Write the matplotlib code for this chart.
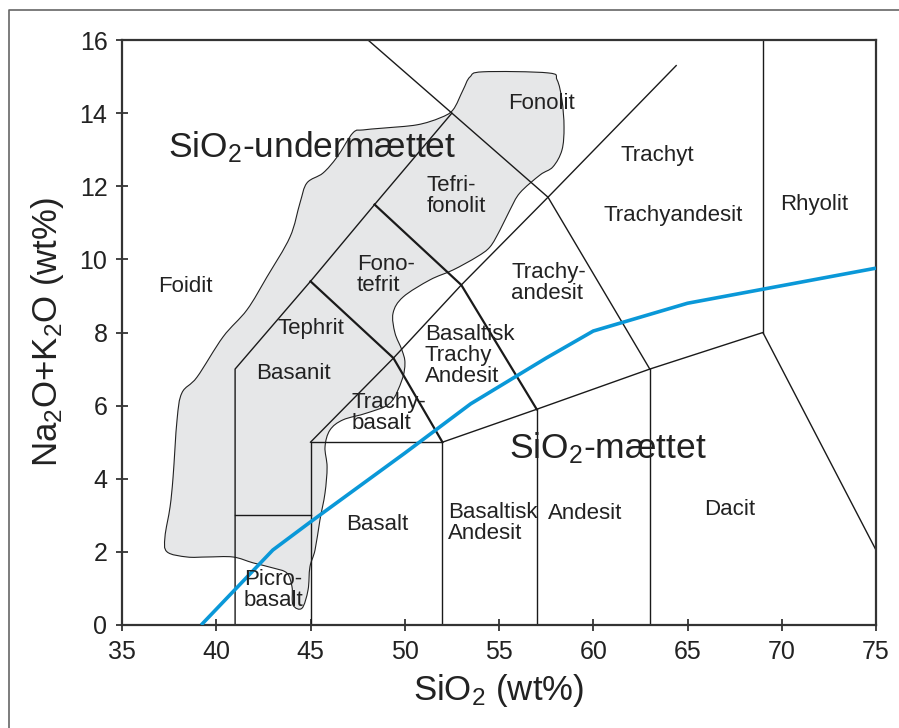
import matplotlib.pyplot as plt
from matplotlib.lines import Line2D
from matplotlib.path import Path
from matplotlib.patches import PathPatch

plt.rcParams['font.family'] = ['Liberation Sans', 'DejaVu Sans']
plt.rcParams['mathtext.fontset'] = 'custom'
plt.rcParams['mathtext.rm'] = 'Liberation Sans'
plt.rcParams['mathtext.it'] = 'Liberation Sans:italic'

# TAS field boundaries (SiO2, Na2O+K2O), thin lines
thin_lines = [
    ([41, 41, 45, 48.4, 52.5, 48.05], [0, 7, 9.4, 11.5, 14, 16]),
    ([41, 45], [3, 3]),
    ([45, 45, 52, 52], [0, 5, 5, 0]),
    ([45, 49.4, 53, 57.6, 64.4], [5, 7.3, 9.3, 11.7, 15.3]),
    ([52.5, 57.6, 63], [14, 11.7, 7]),
    ([52, 57, 63, 69, 75], [5, 5.9, 7, 8, 2.05]),
    ([57, 57], [0, 5.9]),
    ([63, 63], [0, 7]),
    ([69, 69], [8, 16]),
]
# slightly heavier boundaries
thick_lines = [
    ([45, 49.4, 52], [9.4, 7.3, 5]),
    ([48.4, 53, 57], [11.5, 9.3, 5.9]),
]

# alkaline / subalkaline divide
divide_sio2 = [39.2, 43, 45, 50, 53.5, 57.5, 60, 65, 75]
divide_alk = [0, 2.05, 2.82, 4.7, 6.05, 7.3, 8.04, 8.8, 9.76]

# outline of the SiO2-undersaturated (shaded) field
field_sio2 = [54.15, 57.6, 58.08, 58.34, 58.45, 58.34, 57.86, 57.18, 56.11, 55.58,
              55.05, 54.52, 53.83, 52.56, 51.34, 49.91, 49.38, 49.48, 49.85, 50.01,
              49.85, 49.22, 48.0, 46.72, 46.03, 45.77, 45.88, 45.77, 45.5, 45.24,
              44.97, 44.87, 44.55, 44.07, 44.02, 43.75, 43.01, 41.95, 40.89, 39.51,
              38.45, 37.39, 37.28, 37.55, 37.71, 37.92, 38.18, 38.98, 40.36, 41.63,
              42.69, 43.91, 44.44, 44.81, 45.66, 46.41, 47.25, 47.79, 48.85, 50.65,
              51.87, 52.56, 53.09, 53.46]
field_alk = [15.13, 15.1, 14.91, 14.36, 13.62, 12.99, 12.53, 12.31, 11.82, 11.35,
             10.8, 10.34, 10.07, 9.71, 9.44, 8.97, 8.53, 7.99, 7.52, 7.17,
             6.7, 6.07, 5.8, 5.61, 5.33, 4.87, 4.32, 3.61, 2.87, 2.05,
             1.59, 0.96, 0.46, 0.55, 1.04, 1.42, 1.56, 1.7, 1.86, 1.86,
             1.86, 2.0, 2.41, 3.23, 4.05, 5.61, 6.35, 6.78, 7.88, 8.62,
             9.52, 10.61, 11.54, 12.09, 12.36, 12.8, 13.46, 13.54, 13.59, 13.68,
             13.87, 14.09, 14.63, 14.99]

# rock names: (text, x, y, horizontal alignment)
rock_labels = [
    ('Fonolit', 57.23, 14.27, 'center'),
    ('Trachyt', 63.38, 12.83, 'center'),
    ('Trachyandesit', 64.23, 11.19, 'center'),
    ('Rhyolit', 71.7, 11.49, 'center'),
    ('Tefri-\nfonolit', 51.18, 11.73, 'left'),
    ('Fono-\ntefrit', 47.45, 9.57, 'left'),
    ('Foidit', 38.34, 9.25, 'center'),
    ('Tephrit', 45.03, 8.12, 'center'),
    ('Basanit', 44.12, 6.87, 'center'),
    ('Basaltisk\nTrachy\nAndesit', 51.07, 7.38, 'left'),
    ('Trachy-\nandesit', 55.64, 9.35, 'left'),
    ('Trachy-\nbasalt', 47.2, 5.8, 'left'),
    ('Basalt', 48.53, 2.76, 'center'),
    ('Basaltisk\nAndesit', 52.3, 2.79, 'left'),
    ('Andesit', 59.56, 3.04, 'center'),
    ('Dacit', 67.25, 3.15, 'center'),
    ('Picro-\nbasalt', 41.47, 0.96, 'left'),
]

x_ticks = list(range(35, 76, 5))
y_ticks = list(range(0, 17, 2))


def smooth_closed_path(xs, ys):
    # Catmull-Rom through the traced points, drawn as cubic Bezier pieces
    n = len(xs)
    verts = [(xs[0], ys[0])]
    codes = [Path.MOVETO]
    for i in range(n):
        p0 = (xs[i - 1], ys[i - 1])
        p1 = (xs[i], ys[i])
        p2 = (xs[(i + 1) % n], ys[(i + 1) % n])
        p3 = (xs[(i + 2) % n], ys[(i + 2) % n])
        c1 = (p1[0] + (p2[0] - p0[0]) / 6, p1[1] + (p2[1] - p0[1]) / 6)
        c2 = (p2[0] - (p3[0] - p1[0]) / 6, p2[1] - (p3[1] - p1[1]) / 6)
        verts += [c1, c2, p2]
        codes += [Path.CURVE4] * 3
    return Path(verts, codes)


fig = plt.figure(figsize=(8.99, 7.28), dpi=100)
ax = fig.add_axes([122 / 899, 103 / 728, 754 / 899, 585 / 728])

ax.add_patch(PathPatch(smooth_closed_path(field_sio2, field_alk),
                       facecolor='#e6e7e8', edgecolor='#222222',
                       linewidth=0.8, zorder=1))

for xs, ys in thin_lines:
    ax.plot(xs, ys, color='#1a1a1a', linewidth=1.0, zorder=2)
for xs, ys in thick_lines:
    ax.plot(xs, ys, color='#1a1a1a', linewidth=1.6, zorder=2)

ax.plot(divide_sio2, divide_alk, color='#0a98d8', linewidth=2.6, zorder=3,
        solid_capstyle='butt')

for txt, x, y, ha in rock_labels:
    ax.text(x, y, txt, ha=ha, va='center', fontsize=16, color='#222222',
            linespacing=1.0, zorder=4)

ax.text(37.44, 13.07, 'SiO$_2$-undermættet', fontsize=25.5, color='#222222',
        ha='left', va='center', zorder=4)
ax.text(55.53, 4.84, 'SiO$_2$-mættet', fontsize=25.5, color='#222222',
        ha='left', va='center', zorder=4)

ax.set_xlim(35, 75)
ax.set_ylim(0, 16)
ax.set_xticks(x_ticks)
ax.set_yticks(y_ticks)
ax.tick_params(direction='inout', length=9, width=1.2, labelsize=18,
               colors='#222222', pad=6)
for s in ax.spines.values():
    s.set_linewidth(1.6)
    s.set_color('#333333')

ax.set_xlabel('SiO$_2$ (wt%)', fontsize=25, color='#222222', labelpad=6)
ax.set_ylabel('Na$_2$O+K$_2$O (wt%)', fontsize=25, color='#222222', labelpad=10)

# outer frame around the figure
fig.add_artist(Line2D([9 / 899, 9 / 899, 1.0], [0.0, 1 - 10 / 728, 1 - 10 / 728],
                      transform=fig.transFigure, color='#666666', linewidth=1.2))

plt.savefig('out.png', dpi=100)
